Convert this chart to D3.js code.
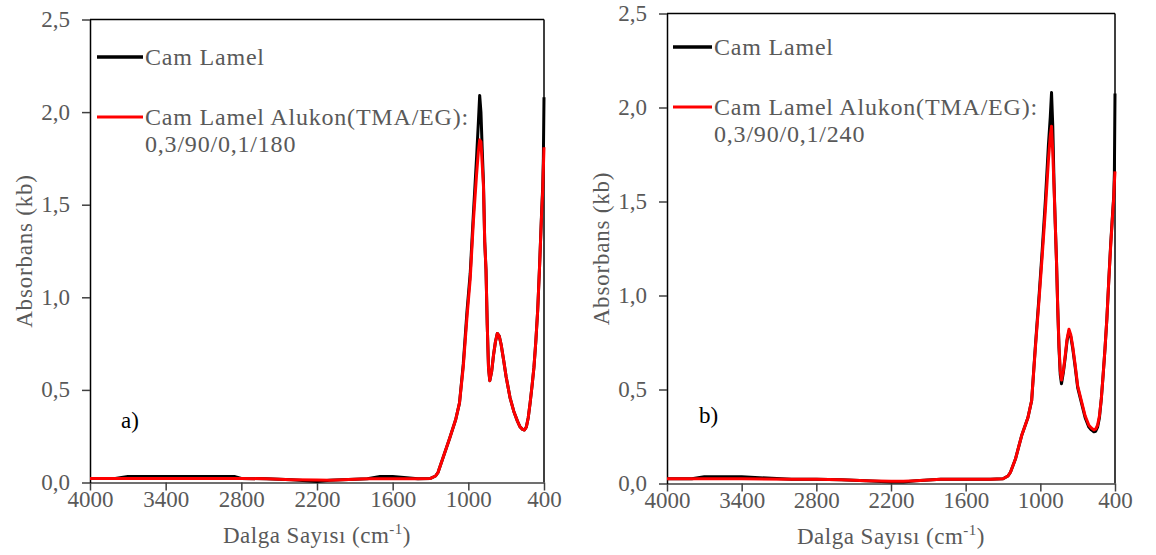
<!DOCTYPE html>
<html>
<head>
<meta charset="utf-8">
<script src="https://cdn.jsdelivr.net/npm/d3@7"></script>
<style>
  body { margin: 0; background: #fff; }
  text { font-family: "Liberation Serif", "Times New Roman", serif; }
</style>
</head>
<body>
<script>
// wavenumbers (cm-1) shared by all four series
var wavenumbers = [4000, 3800, 3700, 3600, 3400, 3000, 2850, 2800, 2600, 2400, 2200, 2100, 2000, 1800, 1700, 1600, 1400, 1300,
  1260, 1240, 1200, 1150, 1100, 1070, 1040, 1010, 985, 960, 935, 920, 910, 900, 890, 880, 870, 860, 850, 840, 830,
  815, 800, 785, 770, 755, 740, 720, 700, 670, 640, 610, 590, 570, 555, 540, 525, 510, 495, 480, 465, 450, 435, 420, 410, 405, 400];

// panel a)
var camA = [0.022, 0.022, 0.032, 0.032, 0.032, 0.032, 0.032, 0.022, 0.02, 0.015, 0.006, 0.012, 0.015, 0.02, 0.032, 0.032, 0.02, 0.022,
  0.035, 0.055, 0.135, 0.235, 0.34, 0.43, 0.64, 0.93, 1.13, 1.45, 1.75, 1.95, 2.09, 2.0, 1.8, 1.62, 1.3, 1.15, 0.85, 0.62, 0.55,
  0.6, 0.69, 0.76, 0.805, 0.79, 0.745, 0.66, 0.57, 0.46, 0.385, 0.33, 0.3, 0.287, 0.283, 0.3, 0.35, 0.43, 0.52, 0.62, 0.76, 0.93, 1.17, 1.44, 1.6, 1.75, 2.08];
var alukonA = [0.022, 0.022, 0.022, 0.022, 0.022, 0.022, 0.022, 0.022, 0.02, 0.015, 0.013, 0.012, 0.015, 0.02, 0.02, 0.02, 0.02, 0.022,
  0.035, 0.055, 0.135, 0.235, 0.34, 0.43, 0.625, 0.9, 1.1, 1.41, 1.66, 1.79, 1.85, 1.84, 1.72, 1.6, 1.3, 1.15, 0.85, 0.62, 0.55,
  0.6, 0.69, 0.76, 0.805, 0.79, 0.745, 0.66, 0.57, 0.46, 0.385, 0.33, 0.3, 0.287, 0.283, 0.3, 0.35, 0.43, 0.52, 0.62, 0.76, 0.93, 1.17, 1.43, 1.58, 1.7, 1.81];

// panel b)
var camB = [0.025, 0.025, 0.036, 0.036, 0.036, 0.022, 0.022, 0.022, 0.02, 0.015, 0.008, 0.008, 0.015, 0.022, 0.022, 0.022, 0.022, 0.025,
  0.04, 0.06, 0.13, 0.255, 0.35, 0.44, 0.73, 1.0, 1.24, 1.5, 1.8, 1.95, 2.08, 1.9, 1.6, 1.38, 1.18, 0.93, 0.72, 0.58, 0.53,
  0.59, 0.67, 0.76, 0.81, 0.78, 0.72, 0.62, 0.51, 0.43, 0.35, 0.3, 0.285, 0.275, 0.278, 0.3, 0.35, 0.45, 0.58, 0.72, 0.88, 1.08, 1.27, 1.43, 1.53, 1.65, 2.075];
var alukonB = [0.025, 0.025, 0.025, 0.025, 0.025, 0.022, 0.022, 0.022, 0.02, 0.015, 0.012, 0.012, 0.015, 0.022, 0.022, 0.022, 0.022, 0.025,
  0.04, 0.06, 0.13, 0.255, 0.35, 0.44, 0.72, 0.98, 1.21, 1.45, 1.72, 1.85, 1.9, 1.76, 1.58, 1.38, 1.18, 0.93, 0.73, 0.6, 0.55,
  0.6, 0.68, 0.77, 0.82, 0.79, 0.73, 0.63, 0.52, 0.44, 0.36, 0.31, 0.295, 0.285, 0.29, 0.31, 0.36, 0.45, 0.58, 0.72, 0.88, 1.08, 1.26, 1.42, 1.52, 1.6, 1.66];

var xTicks = [4000, 3400, 2800, 2200, 1600, 1000, 400];
var yTicks = [0, 0.5, 1.0, 1.5, 2.0, 2.5];
var legendNames = ["Cam Lamel", "Cam Lamel Alukon(TMA/EG):"];

var svg = d3.select("body").append("svg")
  .attr("width", 1156)
  .attr("height", 555);

var grey = "#595959";

function drawPanel(p) {
  var x = d3.scaleLinear().domain([4000, 400]).range([p.left, p.right]);
  var y = d3.scaleLinear().domain([0, 2.5]).range([p.bottom, p.top]);
  var g = svg.append("g");

  // frame
  g.append("line").attr("x1", p.left).attr("x2", p.right).attr("y1", p.top).attr("y2", p.top)
    .attr("stroke", "#000").attr("stroke-width", 1.5);
  g.append("line").attr("x1", p.right).attr("x2", p.right).attr("y1", p.top).attr("y2", p.bottom)
    .attr("stroke", "#000").attr("stroke-width", 1.5);

  var xAxis = g.append("g")
    .attr("transform", "translate(0," + p.bottom + ")")
    .call(d3.axisBottom(x).tickValues(xTicks).tickSize(8).tickSizeOuter(0).tickFormat(d3.format("d")));
  xAxis.select(".domain").attr("stroke", "#404040").attr("stroke-width", 1.5);
  xAxis.selectAll(".tick line").attr("stroke", "#404040").attr("stroke-width", 1.5);
  xAxis.selectAll(".tick text").attr("fill", grey).attr("font-size", 23)
    .attr("font-family", "Liberation Serif").attr("dy", "0.6em");

  var yAxis = g.append("g")
    .attr("transform", "translate(" + p.left + ",0)")
    .call(d3.axisLeft(y).tickValues(yTicks).tickSize(8).tickSizeOuter(0)
      .tickFormat(function(d) { return d3.format(".1f")(d).replace(".", ","); }));
  yAxis.select(".domain").attr("stroke", "#000").attr("stroke-width", 1.5);
  yAxis.selectAll(".tick line").attr("stroke", "#404040").attr("stroke-width", 1.5);
  yAxis.selectAll(".tick text").attr("fill", grey).attr("font-size", 23)
    .attr("font-family", "Liberation Serif").attr("x", -20).attr("dy", "0.3em");

  var line = d3.line()
    .x(function(d) { return x(d[0]); })
    .y(function(d) { return y(d[1]); });

  g.append("path")
    .datum(d3.zip(wavenumbers, p.black))
    .attr("d", line).attr("fill", "none").attr("stroke", "#000").attr("stroke-width", 3)
    .attr("stroke-linejoin", "round");
  g.append("path")
    .datum(d3.zip(wavenumbers, p.red))
    .attr("d", line).attr("fill", "none").attr("stroke", "#ff0000").attr("stroke-width", 3)
    .attr("stroke-linejoin", "round");

  // legend
  var lg = g.append("g").attr("font-size", 24).attr("fill", grey).attr("letter-spacing", 0.8);
  lg.append("line").attr("x1", p.legX).attr("x2", p.legX + p.legW).attr("y1", p.legY).attr("y2", p.legY)
    .attr("stroke", "#000").attr("stroke-width", 3.5);
  lg.append("text").attr("x", p.legX + p.legW + 2).attr("y", p.legY).attr("dy", "0.33em").text(legendNames[0]);
  lg.append("line").attr("x1", p.legX).attr("x2", p.legX + p.legW).attr("y1", p.legY + 60).attr("y2", p.legY + 60)
    .attr("stroke", "#ff0000").attr("stroke-width", 3);
  lg.append("text").attr("x", p.legX + p.legW + 2).attr("y", p.legY + 60).attr("dy", "0.33em").text(legendNames[1]);
  lg.append("text").attr("x", p.legX + p.legW + 2).attr("y", p.legY + 87).attr("dy", "0.33em").text(p.sample);

  // panel letter
  g.append("text").attr("x", p.letterX).attr("y", p.letterY).attr("dy", "0.33em")
    .attr("font-size", 23).attr("fill", "#000").text(p.letter);

  // axis titles
  var xt = g.append("text").attr("x", (p.left + p.right) / 2).attr("y", p.bottom + 60)
    .attr("text-anchor", "middle").attr("font-size", 23).attr("fill", grey).attr("letter-spacing", 0.5);
  xt.append("tspan").text("Dalga Sayısı (cm");
  xt.append("tspan").attr("font-size", 15).attr("dy", -9).text("-1");
  xt.append("tspan").attr("dy", 9).text(")");

  g.append("text")
    .attr("transform", "translate(" + (p.left - 58) + "," + ((p.top + p.bottom) / 2) + ") rotate(-90)")
    .attr("text-anchor", "middle").attr("font-size", 23).attr("fill", grey).attr("letter-spacing", 0.8)
    .text("Absorbans  (kb)");
}

drawPanel({ left: 90, right: 544, top: 19.5, bottom: 482.5, black: camA, red: alukonA,
  legX: 97, legW: 46, legY: 57, sample: "0,3/90/0,1/180", letter: "a)", letterX: 121, letterY: 420 });
drawPanel({ left: 667, right: 1115, top: 13.5, bottom: 483.5, black: camB, red: alukonB,
  legX: 673, legW: 39, legY: 47, sample: "0,3/90/0,1/240", letter: "b)", letterX: 699, letterY: 415 });
</script>
</body>
</html>
